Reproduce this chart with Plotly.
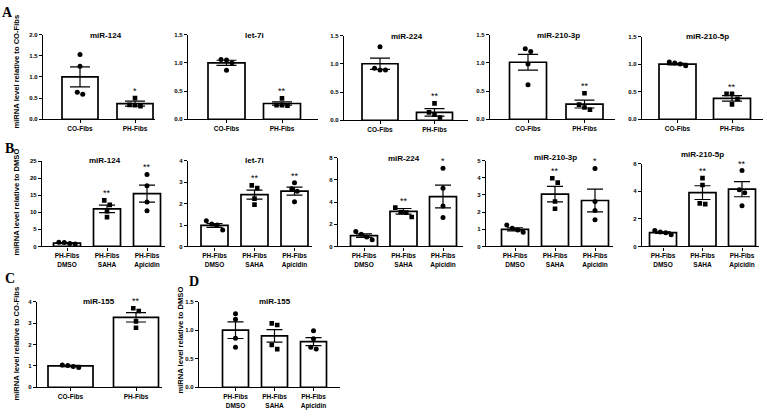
import plotly.graph_objects as go

W, H = 767, 416

# ---------------- data ----------------
A_groups = ["CO-Fibs", "PH-Fibs"]
B_groups = ["PH-Fibs<br>DMSO", "PH-Fibs<br>SAHA", "PH-Fibs<br>Apicidin"]

# Panel A (relative to CO-Fibs)
A_mir124_mean = [1.00, 0.37]
A_mir124_sem = [0.235, 0.06]
A_mir124_pts = [[1.53, 1.25, 0.64, 0.59], [0.50, 0.34, 0.33, 0.31]]
A_mir124_sig = ["", "*"]
A_mir124_yticks = [0, 0.5, 1.0, 1.5, 2.0]

A_let7i_mean = [1.00, 0.28]
A_let7i_sem = [0.045, 0.03]
A_let7i_pts = [[1.06, 1.05, 1.00, 0.87], [0.37, 0.25, 0.25, 0.24]]
A_let7i_sig = ["", "**"]
A_let7i_yticks = [0, 0.5, 1.0, 1.5]

A_mir224_mean = [1.00, 0.14]
A_mir224_sem = [0.10, 0.065]
A_mir224_pts = [[1.30, 0.92, 0.89, 0.89], [0.30, 0.14, 0.10, 0.05]]
A_mir224_sig = ["", "**"]
A_mir224_yticks = [0, 0.5, 1.0, 1.5]

A_mir2103p_mean = [1.01, 0.27]
A_mir2103p_sem = [0.14, 0.07]
A_mir2103p_pts = [[1.25, 1.20, 0.98, 0.61], [0.46, 0.26, 0.21, 0.17]]
A_mir2103p_sig = ["", "**"]
A_mir2103p_yticks = [0, 0.5, 1.0, 1.5]

A_mir2105p_mean = [1.00, 0.38]
A_mir2105p_sem = [0.015, 0.05]
A_mir2105p_pts = [[1.04, 1.02, 1.00, 0.97], [0.46, 0.46, 0.37, 0.27]]
A_mir2105p_sig = ["", "**"]
A_mir2105p_yticks = [0, 0.5, 1.0, 1.5]

# Panel B (relative to DMSO)
B_mir124_mean = [1.0, 11.0, 15.5]
B_mir124_sem = [0.15, 1.1, 2.5]
B_mir124_pts = [[1.25, 1.15, 0.85, 0.75], [13.5, 12.2, 10.3, 8.6], [21.1, 17.8, 13.0, 10.5]]
B_mir124_sig = ["", "**", "**"]
B_mir124_yticks = [0, 5, 10, 15, 20, 25]

B_let7i_mean = [0.98, 2.42, 2.58]
B_let7i_sem = [0.09, 0.21, 0.19]
B_let7i_pts = [[1.20, 1.05, 1.00, 0.77], [2.85, 2.72, 2.23, 1.95], [2.97, 2.69, 2.58, 2.08]]
B_let7i_sig = ["", "**", "**"]
B_let7i_yticks = [0, 1, 2, 3, 4]

B_mir224_mean = [0.97, 3.17, 4.5]
B_mir224_sem = [0.16, 0.25, 1.03]
B_mir224_pts = [[1.35, 1.10, 0.85, 0.60], [3.50, 3.10, 3.05, 2.65], [7.05, 5.25, 3.65, 2.60]]
B_mir224_sig = ["", "**", "*"]
B_mir224_yticks = [0, 2, 4, 6, 8]

B_mir2103p_mean = [1.0, 3.05, 2.68]
B_mir2103p_sem = [0.09, 0.45, 0.66]
B_mir2103p_pts = [[1.25, 1.06, 0.96, 0.83], [3.98, 3.72, 2.62, 2.20], [4.55, 2.62, 2.10, 1.55]]
B_mir2103p_sig = ["", "**", "*"]
B_mir2103p_yticks = [0, 1, 2, 3, 4, 5]

B_mir2105p_mean = [1.0, 3.9, 4.15]
B_mir2105p_sem = [0.06, 0.5, 0.55]
B_mir2105p_pts = [[1.15, 1.05, 1.00, 0.85], [4.95, 4.45, 3.12, 3.07], [5.50, 4.10, 3.90, 2.95]]
B_mir2105p_sig = ["", "**", "**"]
B_mir2105p_yticks = [0, 2, 4, 6]

# Panel C (relative to CO-Fibs)
C_mir155_mean = [1.0, 3.27]
C_mir155_sem = [0.03, 0.22]
C_mir155_pts = [[1.04, 1.02, 0.97, 0.93], [3.69, 3.56, 3.08, 2.78]]
C_mir155_sig = ["", "**"]
C_mir155_yticks = [0, 1, 2, 3, 4]

# Panel D (relative to DMSO)
D_mir155_mean = [1.0, 0.90, 0.80]
D_mir155_sem = [0.145, 0.11, 0.07]
D_mir155_pts = [[1.29, 1.19, 0.86, 0.70], [1.12, 1.09, 0.74, 0.67], [0.99, 0.85, 0.70, 0.67]]
D_mir155_sig = ["", "", ""]
D_mir155_yticks = [0, 0.5, 1.0, 1.5]

# ---------------- layout geometry (pixels) ----------------
FONT = "Liberation Sans"
panels = [
    ("miR-124", A_groups, A_mir124_mean, A_mir124_sem, A_mir124_pts, A_mir124_sig, A_mir124_yticks, 1,
     dict(x0=43, x1=155, c0=80, s=55, bw=36, yt=32, yb=118, cap=10, ty=33, tdx=-2)),
    ("let-7i", A_groups, A_let7i_mean, A_let7i_sem, A_let7i_pts, A_let7i_sig, A_let7i_yticks, 1,
     dict(x0=188, x1=318, c0=226.5, s=55.5, bw=37, yt=32, yb=118, cap=10, ty=33, tdx=0)),
    ("miR-224", A_groups, A_mir224_mean, A_mir224_sem, A_mir224_pts, A_mir224_sig, A_mir224_yticks, 1,
     dict(x0=344, x1=468, c0=380, s=54.5, bw=36, yt=33, yb=119, cap=10, ty=34, tdx=0)),
    ("miR-210-3p", A_groups, A_mir2103p_mean, A_mir2103p_sem, A_mir2103p_pts, A_mir2103p_sig, A_mir2103p_yticks, 1,
     dict(x0=490, x1=615, c0=528, s=56.5, bw=37, yt=32, yb=118, cap=10, ty=33, tdx=2)),
    ("miR-210-5p", A_groups, A_mir2105p_mean, A_mir2105p_sem, A_mir2105p_pts, A_mir2105p_sig, A_mir2105p_yticks, 1,
     dict(x0=642, x1=763, c0=677.5, s=54.5, bw=37, yt=34, yb=118, cap=10, ty=34, tdx=3)),
    ("miR-124", B_groups, B_mir124_mean, B_mir124_sem, B_mir124_pts, B_mir124_sig, B_mir124_yticks, 0,
     dict(x0=42, x1=165, c0=67, s=40, bw=27, yt=160.5, yb=247, cap=8, ty=160, tdx=-2)),
    ("let-7i", B_groups, B_let7i_mean, B_let7i_sem, B_let7i_pts, B_let7i_sig, B_let7i_yticks, 0,
     dict(x0=188, x1=312, c0=214.5, s=40, bw=27, yt=160, yb=247, cap=8, ty=160, tdx=0)),
    ("miR-224", B_groups, B_mir224_mean, B_mir224_sem, B_mir224_pts, B_mir224_sig, B_mir224_yticks, 0,
     dict(x0=338, x1=463, c0=364, s=39.5, bw=27, yt=157, yb=247, cap=8, ty=158, tdx=0)),
    ("miR-210-3p", B_groups, B_mir2103p_mean, B_mir2103p_sem, B_mir2103p_pts, B_mir2103p_sig, B_mir2103p_yticks, 0,
     dict(x0=486, x1=613, c0=515, s=40, bw=27, yt=160, yb=247, cap=8, ty=157, tdx=0)),
    ("miR-210-5p", B_groups, B_mir2105p_mean, B_mir2105p_sem, B_mir2105p_pts, B_mir2105p_sig, B_mir2105p_yticks, 0,
     dict(x0=642, x1=759, c0=663, s=39.5, bw=27, yt=163, yb=247, cap=8, ty=154, tdx=0)),
    ("miR-155", A_groups, C_mir155_mean, C_mir155_sem, C_mir155_pts, C_mir155_sig, C_mir155_yticks, 0,
     dict(x0=37, x1=162, c0=70.5, s=65.5, bw=45, yt=303, yb=390, cap=10, ty=303, tdx=-4)),
    ("miR-155", B_groups, D_mir155_mean, D_mir155_sem, D_mir155_pts, D_mir155_sig, D_mir155_yticks, 1,
     dict(x0=199, x1=340, c0=235.5, s=39, bw=26, yt=303, yb=390, cap=8, ty=303, tdx=0)),
]

fig = go.Figure()
annotations = []
layout_axes = {}
SYMBOLS = ["circle", "square", "circle"]


def swarm(vals, pxu, d=5.2):
    """Return x offsets (px) so markers do not overlap (simple clustering)."""
    order = sorted(range(len(vals)), key=lambda i: -vals[i])
    offs = [0.0] * len(vals)
    clusters, cur = [], [order[0]]
    for a, b in zip(order[:-1], order[1:]):
        if abs(vals[a] - vals[b]) * pxu < d:
            cur.append(b)
        else:
            clusters.append(cur)
            cur = [b]
    clusters.append(cur)
    for cl in clusters:
        n = len(cl)
        for k, i in enumerate(cl):
            offs[i] = (k - (n - 1) / 2) * d * 1.05
    return offs


for idx, (title, groups, mean, sem, pts, sig, yticks, dec, g) in enumerate(panels, start=1):
    xn = "x" if idx == 1 else f"x{idx}"
    yn = "y" if idx == 1 else f"y{idx}"
    xk = "xaxis" if idx == 1 else f"xaxis{idx}"
    yk = "yaxis" if idx == 1 else f"yaxis{idx}"
    n = len(groups)
    xs = list(range(n))
    ymax = yticks[-1]
    pxu = (g["yb"] - g["yt"]) / ymax

    fig.add_trace(go.Bar(
        x=xs, y=mean, xaxis=xn, yaxis=yn, width=g["bw"] / g["s"],
        marker=dict(color="white", line=dict(color="black", width=1.7)),
        error_y=dict(type="data", array=sem, visible=True, color="black",
                     thickness=1.2, width=g["cap"]),
        showlegend=False, hoverinfo="skip"))

    for gi in range(n):
        offs = swarm(pts[gi], pxu)
        fig.add_trace(go.Scatter(
            x=[gi + o / g["s"] for o in offs], y=pts[gi], xaxis=xn, yaxis=yn,
            mode="markers",
            marker=dict(color="black", size=5 if SYMBOLS[gi] == "circle" else 4.6,
                        symbol=SYMBOLS[gi], line=dict(width=0)),
            showlegend=False, hoverinfo="skip"))
        if sig[gi]:
            top = max(max(pts[gi]), mean[gi] + sem[gi])
            annotations.append(dict(
                x=gi, y=top, xref=xn, yref=yn, text=sig[gi], showarrow=False,
                yanchor="bottom", xanchor="center", yshift=0,
                font=dict(family=FONT, size=9, color="black")))

    x0, x1, c0, s = g["x0"], g["x1"], g["c0"], g["s"]
    layout_axes[xk] = dict(
        domain=[x0 / W, x1 / W], range=[(x0 - c0) / s, (x1 - c0) / s],
        anchor=yn, showline=True, linecolor="black", linewidth=1.2,
        ticks="outside", ticklen=3, tickwidth=1, tickcolor="black",
        tickvals=xs, ticktext=groups, showgrid=False, zeroline=False,
        tickfont=dict(family=FONT, size=6.5, color="black", weight="bold"),
        fixedrange=True)
    fmt = "{:.1f}" if dec else "{:d}"
    layout_axes[yk] = dict(
        domain=[1 - g["yb"] / H, 1 - g["yt"] / H], range=[0, ymax],
        anchor=xn, showline=True, linecolor="black", linewidth=1.2,
        ticks="outside", ticklen=3, tickwidth=1, tickcolor="black",
        tickvals=yticks, ticktext=[fmt.format(v) for v in yticks],
        showgrid=False, zeroline=False,
        tickfont=dict(family=FONT, size=6, color="black", weight="bold"),
        fixedrange=True)

    tx = (c0 + (n - 1) * s / 2 + g["tdx"]) / W
    annotations.append(dict(
        x=tx, y=1 - g["ty"] / H, xref="paper", yref="paper", text=title,
        showarrow=False, xanchor="center", yanchor="middle",
        font=dict(family=FONT, size=8, color="black", weight="bold")))

# panel letters
for letter, px, py in [("A", 7.5, 10), ("B", 9, 148), ("C", 10, 280), ("D", 194, 283)]:
    annotations.append(dict(
        x=px / W, y=1 - py / H, xref="paper", yref="paper", text=letter,
        showarrow=False, xanchor="center", yanchor="middle",
        font=dict(family="Liberation Serif", size=14, color="black", weight="bold")))

# y-axis titles
for txt, px, py in [("miRNA level relative to CO-Fibs", 16.5, 70),
                    ("miRNA level relative to DMSO", 16.5, 202),
                    ("miRNA level relative to CO-Fibs", 16.5, 346),
                    ("miRNA level relative to DMSO", 180.5, 342)]:
    annotations.append(dict(
        x=px / W, y=1 - py / H, xref="paper", yref="paper", text=txt,
        showarrow=False, xanchor="center", yanchor="middle", textangle=-90,
        font=dict(family=FONT, size=7.6, color="black", weight="bold")))

fig.update_layout(
    width=W, height=H, margin=dict(l=0, r=0, t=0, b=0),
    paper_bgcolor="white", plot_bgcolor="white",
    annotations=annotations, barmode="overlay", **layout_axes)

fig.write_html("out.html", include_plotlyjs=True, config={"displayModeBar": False},
               post_script="document.body.style.margin='0';document.body.style.overflow='hidden';")
